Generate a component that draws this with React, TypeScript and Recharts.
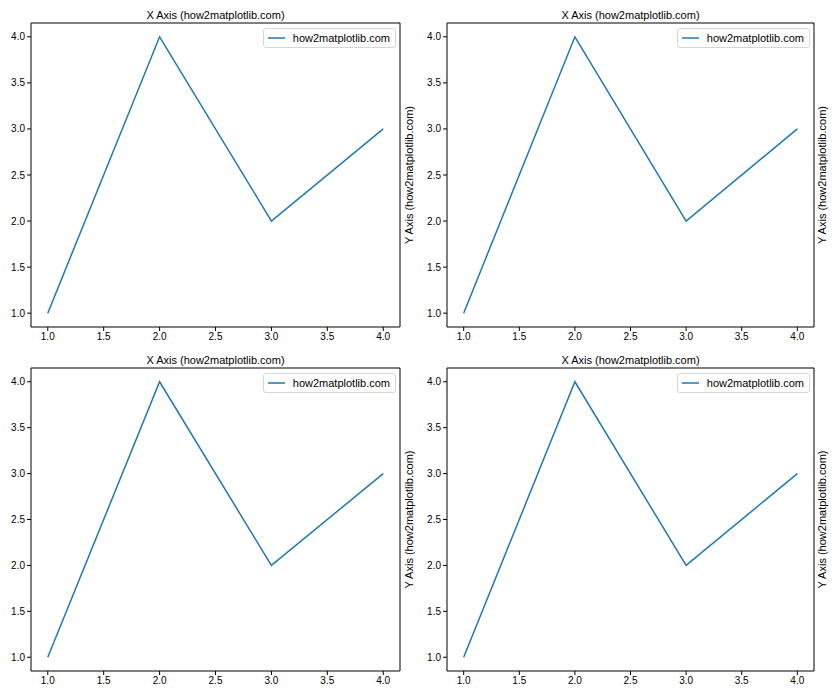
import React from 'react';
import { LineChart, Line, XAxis, YAxis, Legend } from 'recharts';

const xValues = [1, 2, 3, 4];
const yValues = [1, 4, 2, 3];
const tickValues = [1, 1.5, 2, 2.5, 3, 3.5, 4];
const titleText = 'X Axis (how2matplotlib.com)';
const yLabelText = 'Y Axis (how2matplotlib.com)';
const seriesName = 'how2matplotlib.com';

const data = xValues.map((x, i) => ({ x, y: yValues[i] }));

const FONT = '"Liberation Sans", Arial, sans-serif';
const LINE_COLOR = '#1f77b4';
const DOMAIN: [number, number] = [0.85, 4.15];

// chart boxes in page pixels, and the plot frame inside each one
const cols = [
  { left: 0, width: 420, plotLeft: 31, plotRight: 400, labelDx: -1 },
  { left: 420, width: 420, plotLeft: 447, plotRight: 814, labelDx: -5 },
];
const rows = [
  { top: 0, height: 345, plotTop: 23, plotBottom: 327 },
  { top: 345, height: 355, plotTop: 368, plotBottom: 671 },
];

const LegendBox = () => (
  <div
    style={{
      display: 'flex',
      alignItems: 'center',
      height: 20,
      boxSizing: 'border-box',
      border: '1px solid #d6d6d6',
      borderRadius: 3,
      background: 'rgba(255,255,255,0.8)',
      padding: '0 5px 0 4px',
      fontFamily: FONT,
      fontSize: 11,
      color: '#000',
      whiteSpace: 'nowrap',
    }}
  >
    <svg width={20} height={4} style={{ marginRight: 8 }}>
      <line x1={0} y1={2} x2={20} y2={2} stroke={LINE_COLOR} strokeWidth={1.5} />
    </svg>
    <span>{seriesName}</span>
  </div>
);

const Panel = ({ col, row }: { col: typeof cols[0]; row: typeof rows[0] }) => {
  const yAxisW = col.plotLeft - col.left;
  const rightW = col.left + col.width - col.plotRight;
  const topH = row.plotTop - row.top;
  const bottomH = row.top + row.height - row.plotBottom;
  const tickStyle = { fontSize: 10, fill: '#000', fontFamily: FONT };

  return (
    <div style={{ position: 'absolute', left: col.left, top: row.top }}>
      <LineChart
        width={col.width}
        height={row.height}
        data={data}
        margin={{ top: 0, right: 0, bottom: 0, left: 0 }}
      >
        <XAxis
          dataKey="x"
          type="number"
          domain={DOMAIN}
          ticks={tickValues}
          tickFormatter={(v: number) => v.toFixed(1)}
          tick={tickStyle}
          stroke="#000"
          tickSize={4}
          height={bottomH}
          allowDataOverflow
          interval={0}
        />
        <XAxis
          xAxisId="top"
          orientation="top"
          dataKey="x"
          type="number"
          domain={DOMAIN}
          tick={false}
          tickLine={false}
          stroke="#000"
          height={topH}
          allowDataOverflow
          label={{ value: titleText, position: 'center', dy: 4, fontSize: 11, fill: '#000', fontFamily: FONT }}
        />
        <YAxis
          type="number"
          domain={DOMAIN}
          ticks={tickValues}
          tickFormatter={(v: number) => v.toFixed(1)}
          tick={tickStyle}
          stroke="#000"
          tickSize={4}
          width={yAxisW}
          allowDataOverflow
          interval={0}
        />
        <YAxis
          yAxisId="right"
          orientation="right"
          type="number"
          domain={DOMAIN}
          tick={false}
          tickLine={false}
          stroke="#000"
          width={rightW}
          allowDataOverflow
          label={{ value: yLabelText, angle: -90, position: 'center', dx: col.labelDx, fontSize: 11, fill: '#000', fontFamily: FONT }}
        />
        <Legend
          layout="vertical"
          align="center"
          verticalAlign="middle"
          content={<LegendBox />}
          wrapperStyle={{
            top: row.plotTop - row.top + 5,
            left: col.plotRight - col.left - 137,
            width: 133,
          }}
        />
        <Line
          type="linear"
          dataKey="y"
          name={seriesName}
          stroke={LINE_COLOR}
          strokeWidth={1.5}
          dot={false}
          isAnimationActive={false}
        />
      </LineChart>
    </div>
  );
};

export default function App() {
  return (
    <div style={{ position: 'absolute', left: 0, top: 0, width: 840, height: 700, background: '#fff' }}>
      {rows.map((row, r) =>
        cols.map((col, c) => <Panel key={`${r}-${c}`} col={col} row={row} />)
      )}
    </div>
  );
}
